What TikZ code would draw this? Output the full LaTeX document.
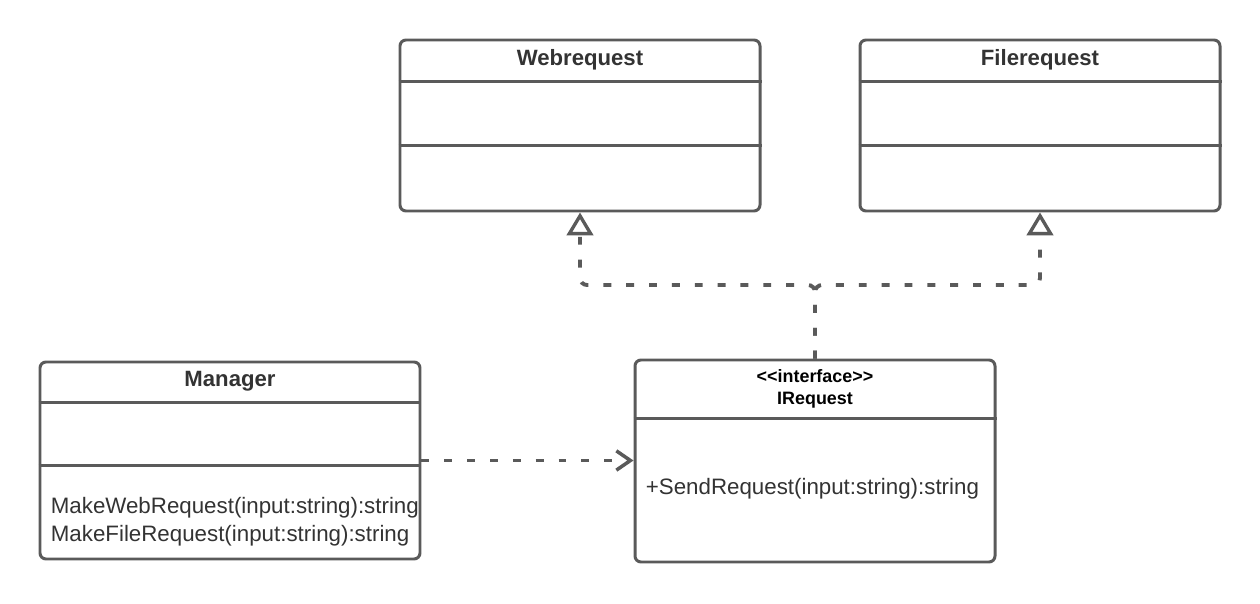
\documentclass[tikz,border=0pt]{standalone}
\usepackage{fontspec}
\setmainfont{Liberation Sans}
\usepackage{tikz}
\usetikzlibrary{calc}
\usetikzlibrary{arrows.meta}
\definecolor{umlgray}{HTML}{5A5A5A}
\definecolor{umltext}{HTML}{333333}

\begin{document}
\begin{tikzpicture}[
  classbox/.style={rectangle, rounded corners=3.4pt, line width=1.7pt,
    draw=umlgray, fill=white, inner sep=0pt},
  classline/.style={line width=1.7pt, umlgray},
  title/.style={font=\fontsize{12.6}{15}\selectfont\bfseries, text=umltext},
  stereo/.style={font=\fontsize{10.2}{12.4}\selectfont\bfseries, text=black,
    align=center},
  method/.style={font=\fontsize{12.7}{15.9}\selectfont, text=umltext,
    anchor=west, align=left, inner sep=0pt},
  realize/.style={line width=2.2pt, umlgray, rounded corners=4pt,
    dash pattern=on 4.5pt off 8.5pt,
    -{Triangle[open, length=13pt, width=15pt, line width=1.9pt]}},
  depend/.style={line width=2.2pt, umlgray, dash pattern=on 4.5pt off 8.5pt,
    -{Straight Barb[length=8pt, width=11pt, line width=2pt]}}
]
\useasboundingbox (0,0) rectangle (25.2,12.06);

% ====== TOP ROW: implementations ======
\node[classbox, minimum width=7.2cm, minimum height=3.42cm] (web) at (11.6,9.55) {};
\node[classbox, minimum width=7.2cm, minimum height=3.42cm] (file) at (20.8,9.55) {};
\node[title] (webT) at ($(web.north)+(0,-0.42)$) {Webrequest};
\node[title] (fileT) at ($(file.north)+(0,-0.42)$) {Filerequest};
\foreach \c in {web,file}{
  \foreach \dy in {0.86,2.14}{
    \draw[classline] ($(\c.north west)+(0,-\dy)$) -- ($(\c.north east)+(0,-\dy)$);
  }
}

% ====== BOTTOM LEFT: Manager ======
\node[classbox, minimum width=7.6cm, minimum height=3.94cm] (mgr) at (4.6,2.85) {};
\node[title] (mgrT) at ($(mgr.north)+(0,-0.42)$) {Manager};
\foreach \dy in {0.84,2.1}{
  \draw[classline] ($(mgr.north west)+(0,-\dy)$) -- ($(mgr.north east)+(0,-\dy)$);
}
\node[method] (mgrM) at ($(mgr.north west)+(0.24,-3.22)$)
  {MakeWebRequest(input:string):string\\MakeFileRequest(input:string):string};

% ====== BOTTOM RIGHT: interface ======
\node[classbox, minimum width=7.2cm, minimum height=4.04cm] (irq) at (16.3,2.84) {};
\node[stereo] (irqT) at ($(irq.north)+(0,-0.6)$) {<{}<interface>{}>\\IRequest};
\draw[classline] ($(irq.north west)+(0,-1.2)$) -- ($(irq.north east)+(0,-1.2)$);
\node[method] (irqM) at ($(irq.north west)+(0.24,-2.6)$)
  {+SendRequest(input:string):string};

% ====== CONNECTORS ======
\coordinate (join) at (16.3,6.36);
\draw[realize] (irq.north) -- (join) -| (web.south);
\draw[realize] (irq.north) -- (join) -| (file.south);
\draw[depend] (mgr.east) -- (mgr.east -| irq.west);

\end{tikzpicture}
\end{document}
